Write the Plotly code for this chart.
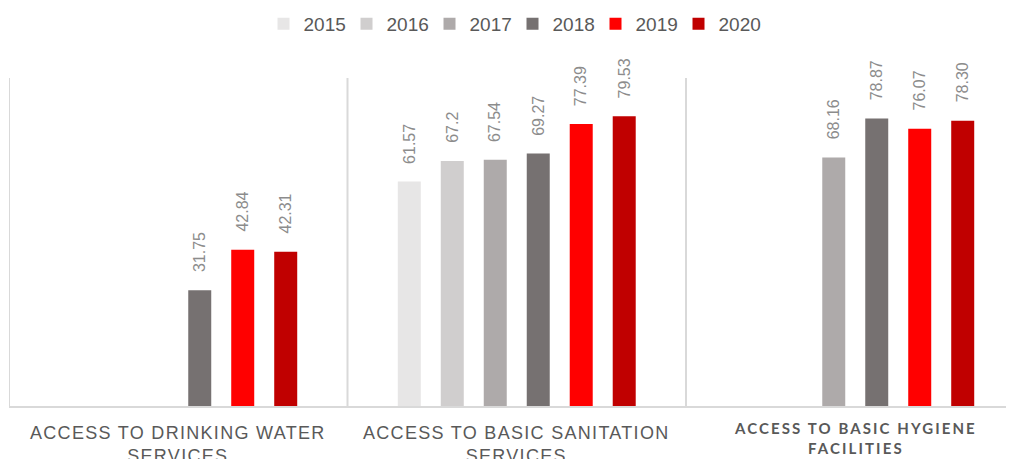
import plotly.graph_objects as go

categories = ["ACCESS TO DRINKING WATER SERVICES",
              "ACCESS TO BASIC SANITATION SERVICES",
              "ACCESS TO BASIC HYGIENE FACILITIES"]
years = ["2015", "2016", "2017", "2018", "2019", "2020"]
values = {
    "2015": [None, 61.57, None],
    "2016": [None, 67.2, None],
    "2017": [None, 67.54, 68.16],
    "2018": [31.75, 69.27, 78.87],
    "2019": [42.84, 77.39, 76.07],
    "2020": [42.31, 79.53, 78.30],
}
label_text = {
    "2015": [None, "61.57", None],
    "2016": [None, "67.2", None],
    "2017": [None, "67.54", "68.16"],
    "2018": ["31.75", "69.27", "78.87"],
    "2019": ["42.84", "77.39", "76.07"],
    "2020": ["42.31", "79.53", "78.30"],
}
colors = ["#E7E6E6", "#D0CECE", "#AEAAAA", "#767171", "#FF0000", "#C00000"]
cat_lines = [["ACCESS TO DRINKING WATER", "SERVICES"],
             ["ACCESS TO BASIC SANITATION", "SERVICES"],
             ["ACCESS TO BASIC HYGIENE", "FACILITIES"]]

# page has an 8px body margin, so the figure is sized/placed to compensate
W, H = 1006, 451
ML, MT, MB = 1, 70, 53
cat_px = 338.5
bargap = 0.238
bargroupgap = 0.465
x_hi = -0.5 + (W - ML) / cat_px

fig = go.Figure()
idx = list(range(len(categories)))
for y, c in zip(years, colors):
    fig.add_trace(go.Bar(
        x=idx, y=values[y], name=y,
        marker=dict(color=c, line=dict(width=0)),
    ))

slot = (1 - bargap) / len(years)
annotations = []
for j, y in enumerate(years):
    off = (j - (len(years) - 1) / 2) * slot
    for i in idx:
        v = values[y][i]
        if v is None:
            continue
        annotations.append(dict(
            x=i + off, y=v, xref="x", yref="y", text=label_text[y][i],
            showarrow=False, textangle=-90, yanchor="bottom", xanchor="center",
            yshift=16, font=dict(family="Liberation Sans", size=16, color="#8C8C8C"),
        ))

for i in idx:
    l1, l2 = cat_lines[i]
    if i < 2:
        ls = "1.3px"
        fnt = dict(family="Liberation Sans", size=18, color="#595959")
        ys = -15
    else:
        ls = "2.1px"
        fnt = dict(family="Lato", size=15, color="#595959", weight="bold")
        ys = -11
    txt = ('<span style="letter-spacing:' + ls + '">' + l1 + '</span><br>'
           '<span style="letter-spacing:' + ls + '">' + l2 + '</span>')
    annotations.append(dict(
        x=i, y=0, xref="x", yref="paper", text=txt, showarrow=False,
        xanchor="center", yanchor="top", yshift=ys, font=fnt, align="center",
    ))

shapes = []
for b in range(len(categories) + 1):
    shapes.append(dict(type="line", xref="x", yref="paper", x0=b - 0.5, x1=b - 0.5,
                       y0=0, y1=1, line=dict(color="#D9D9D9", width=2), layer="below"))

fig.update_layout(
    width=W, height=H,
    margin=dict(l=ML, r=0, t=MT, b=MB, autoexpand=False),
    paper_bgcolor="white", plot_bgcolor="white",
    barmode="group", bargap=bargap, bargroupgap=bargroupgap,
    showlegend=True,
    legend=dict(orientation="h", x=0.501, xanchor="center", y=1.165, yanchor="middle",
                font=dict(family="Liberation Sans", size=19, color="#595959"),
                entrywidth=38, entrywidthmode="pixels", itemclick=False),
    xaxis=dict(range=[-0.5, x_hi], showticklabels=False, showgrid=False, zeroline=False,
               showline=True, linecolor="#D9D9D9", linewidth=1.5, ticks="", fixedrange=True),
    yaxis=dict(range=[0, 90], showticklabels=False, showgrid=False, zeroline=False,
               showline=False, ticks="", fixedrange=True),
    annotations=annotations, shapes=shapes,
)

fig.write_html("out.html")
